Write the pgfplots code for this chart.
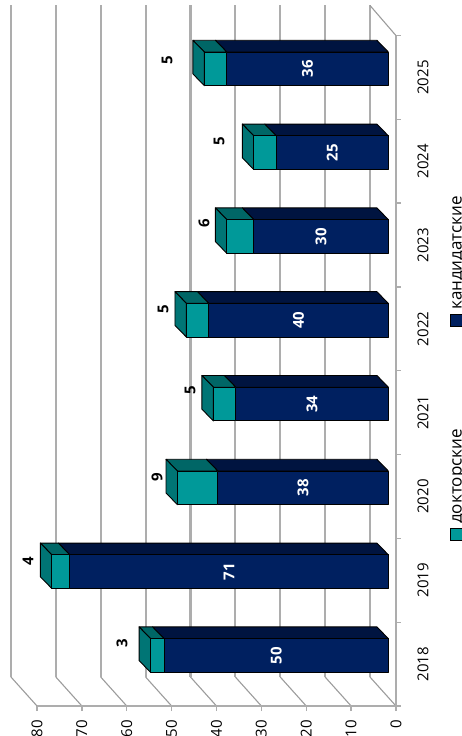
\documentclass[border=0pt]{standalone}
\usepackage{fontspec}
\setmainfont{Open Sans}
\usepackage{pgfplots}
\usepackage{pgfplotstable}
\pgfplotsset{compat=1.18}

\definecolor{candfront}{HTML}{002060}
\definecolor{candtop}{HTML}{001440}
\definecolor{docfront}{HTML}{009999}
\definecolor{doctop}{HTML}{006666}
\definecolor{docside}{HTML}{007575}
\definecolor{wallgray}{HTML}{ADADAD}

% pos = place on the category axis, labv/labu = where the doc label sits
\pgfplotstableread{
pos year cand doc labv labu
0 2018 50 3 61.06 0.752
1 2019 71 4 82.00 1.730
2 2020 38 9 53.26 2.733
3 2021 34 5 45.90 3.771
4 2022 40 5 51.90 4.737
5 2023 30 6 42.80 5.764
6 2024 25 5 39.40 6.742
7 2025 36 5 51.00 7.709
}\datatable

\newcommand{\wallline}[1]{%
  \pgfmathsetmacro\wx{#1+5.8}%
  \edef\tmp{\noexpand\addplot[wallgray!90!black, line width=1.1pt, forget plot] coordinates {(#1,0)(\wx,0.346)};
    \noexpand\addplot[wallgray, line width=2.2pt, forget plot] coordinates {(\wx,0.346)(\wx,8.37)};}%
  \tmp}

% faces of one 3d column: top and end faces first, front faces over them
\newcommand{\face}[9]{%
  \edef\tmp{\noexpand\addplot[fill=#1, draw=black, line width=0.9pt, line join=round, forget plot]
    coordinates {(#2,#3)(#4,#5)(#6,#7)(#8,#9)} --cycle;}%
  \tmp}
\newcommand{\column}[3]{%
  \pgfmathsetmacro\ua{#1+0.603-0.201}%
  \pgfmathsetmacro\ub{#1+0.603+0.201}%
  \pgfmathsetmacro\uc{\ua+0.14}%
  \pgfmathsetmacro\ud{\ub+0.14}%
  \pgfmathsetmacro\va{1.7}%
  \pgfmathsetmacro\vb{1.7+#2}%
  \pgfmathsetmacro\vc{1.7+#2+#3}%
  \pgfmathsetmacro\vda{\va+2.55}%
  \pgfmathsetmacro\vdb{\vb+2.55}%
  \pgfmathsetmacro\vdc{\vc+2.55}%
  \face{candtop}{\va}{\ub}{\vb}{\ub}{\vdb}{\ud}{\vda}{\ud}%
  \face{doctop}{\vb}{\ub}{\vc}{\ub}{\vdc}{\ud}{\vdb}{\ud}%
  \face{docside}{\vc}{\ua}{\vc}{\ub}{\vdc}{\ud}{\vdc}{\uc}%
  \face{candfront}{\va}{\ua}{\vb}{\ua}{\vb}{\ub}{\va}{\ub}%
  \face{docfront}{\vb}{\ua}{\vc}{\ua}{\vc}{\ub}{\vb}{\ub}%
}

\begin{document}
\begin{tikzpicture}[x=1pt,y=1pt]
\path[use as bounding box] (0,0) rectangle (462,736);
\begin{axis}[
    at={(10pt,30pt)}, anchor=south west,
    scale only axis,
    width=386pt, height=701.4pt,
    x dir=reverse,
    xmin=0, xmax=86.02,
    ymin=0, ymax=8.37,
    clip=false,
    axis x line*=bottom,
    axis y line*=right,
    axis line style={draw=none},
    tick align=outside,
    major tick length=5pt,
    tick style={wallgray, line width=1.4pt},
    xtick={0,10,...,80},
    ytick={0,...,8},
    yticklabels={},
    extra y ticks={0.5,1.5,2.5,3.5,4.5,5.5,6.5,7.5},
    extra y tick labels={2018,2019,2020,2021,2022,2023,2024,2025},
    extra y tick style={major tick length=0pt},
    /pgf/number format/assume math mode=true,
    /pgf/number format/1000 sep={},
    tick label style={font=\fontsize{15}{15}\selectfont, black},
    x tick label style={yshift=-5.5pt, rotate=90, anchor=east},
    y tick label style={xshift=27pt, rotate=90, anchor=center},
]
\pgfplotsinvokeforeach{0,10,...,80}{\wallline{#1}}
\addplot[wallgray!90!black, line width=1.1pt, forget plot] coordinates {(0,8)(5.8,8.36)};
\addplot[wallgray, line width=1.6pt, forget plot] coordinates {(80,0)(0,0)(0,8)};

\pgfplotsinvokeforeach{0,...,7}{%
  \pgfplotstablegetelem{#1}{cand}\of\datatable\edef\curcand{\pgfplotsretval}%
  \pgfplotstablegetelem{#1}{doc}\of\datatable\edef\curdoc{\pgfplotsretval}%
  \column{#1}{\curcand}{\curdoc}%
}

% value labels
\addplot[draw=none, forget plot, nodes near coords, point meta=explicit symbolic,
    every node near coord/.style={rotate=90, anchor=center, inner sep=0pt, text=white,
      font=\fontsize{15}{15}\selectfont\bfseries}]
  table[x expr={\thisrow{cand}/2+1.7}, y expr={\thisrow{pos}+0.603}, meta=cand] {\datatable};
\addplot[draw=none, forget plot, nodes near coords, point meta=explicit symbolic,
    every node near coord/.style={rotate=90, anchor=center, inner sep=0pt, text=black,
      font=\fontsize{15}{15}\selectfont\bfseries}]
  table[x=labv, y=labu, meta=doc] {\datatable};
\end{axis}
% legend, set along the right edge as in the source
\fill[docfront] (450,196) rectangle (462,208);
\draw[black, line width=0.6pt] (450,196) rectangle (463,208);
\node[rotate=90, anchor=base west, inner sep=0pt, font=\fontsize{17}{17}\selectfont] at (461.5,212) {докторские};
\fill[candfront] (450,410) rectangle (462,422);
\draw[black, line width=0.6pt] (450,410) rectangle (463,422);
\node[rotate=90, anchor=base west, inner sep=0pt, font=\fontsize{17}{17}\selectfont] at (461.5,426) {кандидатские};
\end{tikzpicture}
\end{document}
